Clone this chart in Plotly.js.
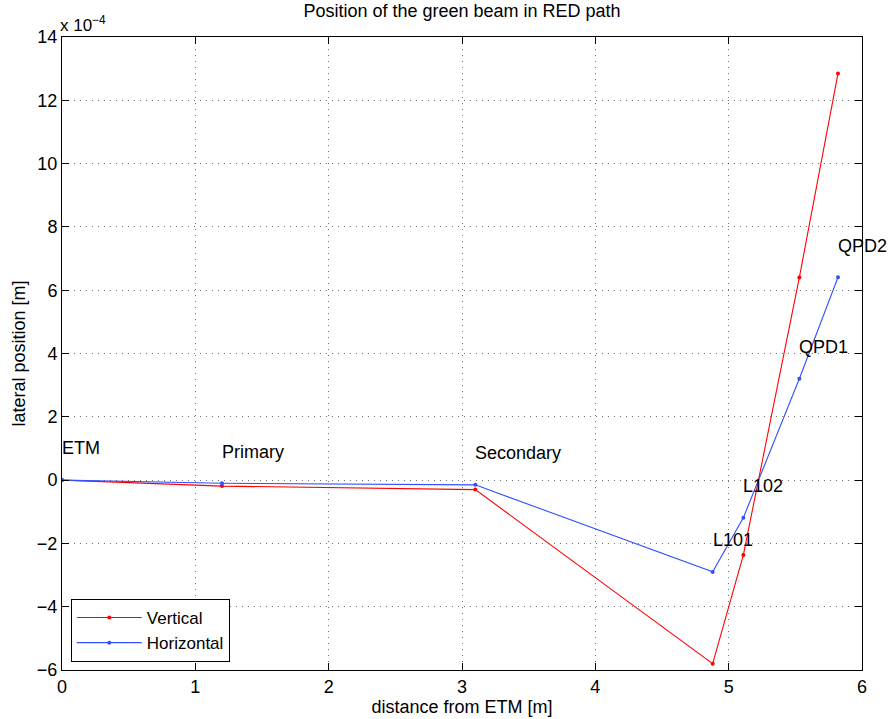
<!DOCTYPE html>
<html><head><meta charset="utf-8">
<script src="https://cdn.plot.ly/plotly-3.0.1.min.js"></script>
<style>body{margin:0;background:#fff}#c{width:891px;height:719px}</style>
</head><body><div id="c"></div>
<script>
// positions along path [m]
const distance = [0, 1.2, 3.1, 4.88, 5.11, 5.53, 5.82];
// lateral positions in units of 1e-4 m
const vertical = [0, -0.19, -0.3, -5.8, -2.37, 6.4, 12.85];
const horizontal = [0, -0.1, -0.15, -2.9, -1.19, 3.2, 6.41];
const labels = ['ETM', 'Primary', 'Secondary', 'L101', 'L102', 'QPD1', 'QPD2'];
const labelOffset = 1; // label placed 1e-4 above horizontal point
const xTicks = [0, 1, 2, 3, 4, 5, 6];
const yTicks = [-6, -4, -2, 0, 2, 4, 6, 8, 10, 12, 14];

const FONT = 'Liberation Sans, Arial, sans-serif';
const traces = [
  {x: distance, y: vertical, name: 'Vertical', mode: 'lines+markers',
   line: {color: 'rgb(255,0,0)', width: 1.1}, marker: {color: 'rgb(255,0,0)', size: 4}},
  {x: distance, y: horizontal, name: 'Horizontal', mode: 'lines+markers',
   line: {color: 'rgb(50,80,255)', width: 1.1}, marker: {color: 'rgb(50,80,255)', size: 4}}
];
const annotations = labels.map((t, i) => ({
  x: distance[i], y: horizontal[i] + labelOffset, text: t, showarrow: false,
  xanchor: 'left', yanchor: 'middle', xshift: -2, font: {size: 18, color: '#000', family: FONT}
}));
annotations.push({xref: 'paper', yref: 'paper', x: 0, y: 1, xanchor: 'left', yanchor: 'bottom',
  text: 'x 10<sup>\u22124</sup>', showarrow: false, font: {size: 17, color: '#000', family: FONT}, yshift: 0, xshift: -4});

const axisCommon = {showline: true, mirror: 'ticks', linecolor: '#000', linewidth: 1,
  ticks: 'inside', ticklen: 7, tickcolor: '#000', showgrid: true,
  gridcolor: 'rgba(0,0,0,0.55)', griddash: '1px,5px', gridwidth: 1, zeroline: false,
  tickfont: {size: 18, color: '#000', family: FONT}};

const layout = {
  width: 891, height: 719,
  margin: {l: 62, r: 29, t: 37, b: 49},
  paper_bgcolor: '#fff', plot_bgcolor: '#fff',
  font: {family: FONT, color: '#000'},
  title: {text: 'Position of the green beam in RED path', font: {size: 18, color: '#000', family: FONT},
          xref: 'paper', x: 0.5, xanchor: 'center', y: 0.994, yanchor: 'top'},
  xaxis: Object.assign({}, axisCommon, {range: [0, 6], tickvals: xTicks,
    title: {text: 'distance from ETM [m]', font: {size: 18, family: FONT, color: '#000'}, standoff: 2}}),
  yaxis: Object.assign({}, axisCommon, {range: [-6, 14], tickvals: yTicks,
    title: {text: 'lateral position [m]', font: {size: 18, family: FONT, color: '#000'}, standoff: 6}}),
  legend: {x: 0.011, y: 0.0126, xanchor: 'left', yanchor: 'bottom', bgcolor: '#fff',
    bordercolor: '#000', borderwidth: 1, font: {size: 17, family: FONT, color: '#000'},
    tracegroupgap: 0, itemwidth: 65},
  annotations: annotations,
  showlegend: true
};
Plotly.newPlot('c', traces, layout, {displayModeBar: false, staticPlot: true});
</script></body></html>
